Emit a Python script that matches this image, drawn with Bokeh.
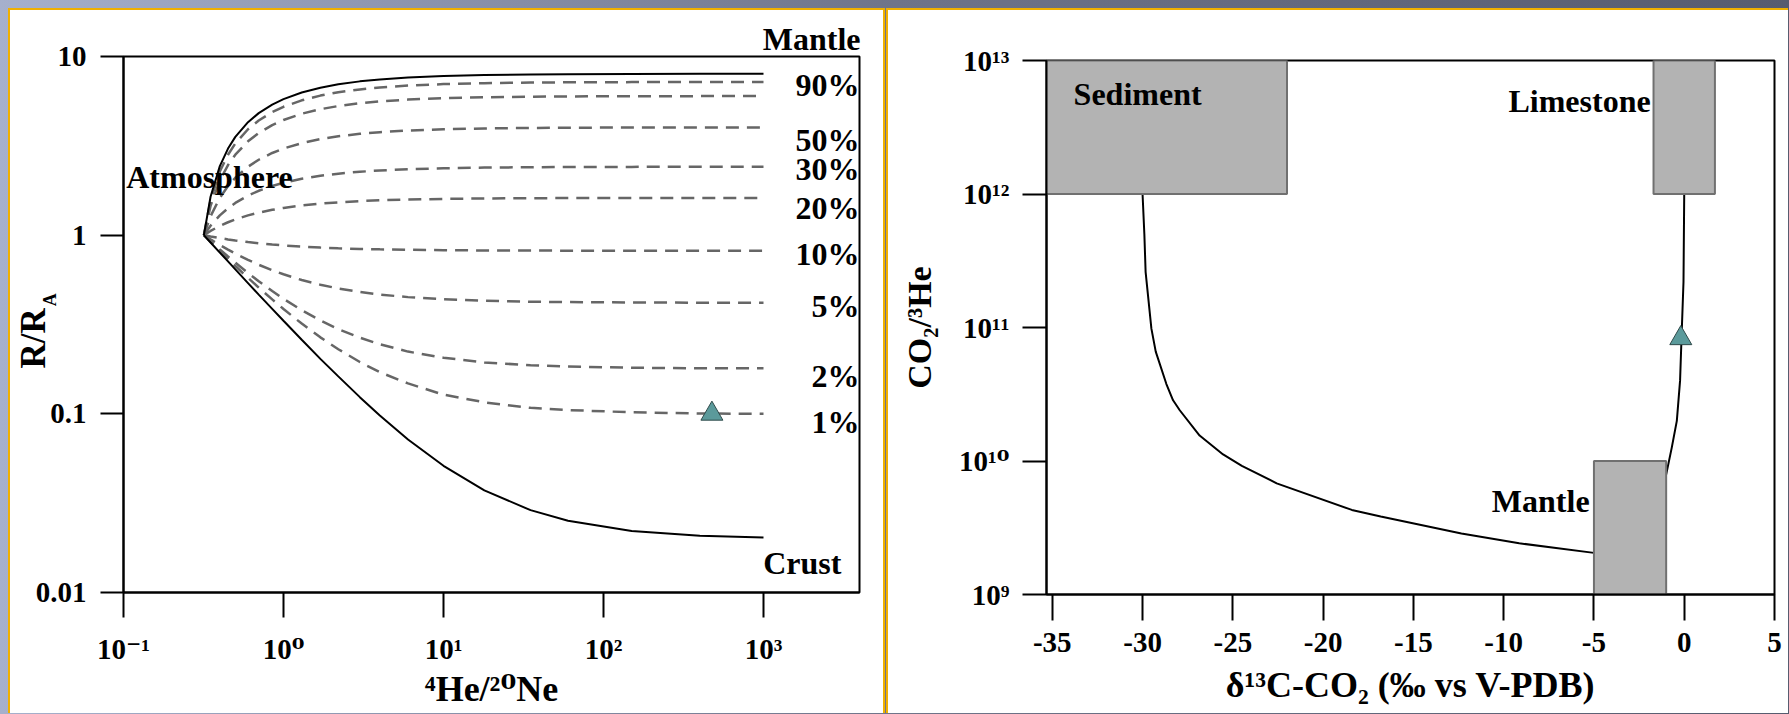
import math
from bokeh.plotting import figure
from bokeh.layouts import row
from bokeh.models import FixedTicker, Label, GlobalInlineStyleSheet
from bokeh.embed import file_html
from bokeh.resources import INLINE

FONT = "Liberation Serif, DejaVu Serif"

# ---------------- Left panel: R/RA vs 4He/20Ne ----------------
he_ne = [0.318, 0.35, 0.4, 0.45, 0.5, 0.6, 0.7, 0.85, 1.0, 1.3, 1.7, 2.2,
         3, 4, 6, 10, 18, 35, 60, 150, 400, 1000]
r_mantle = [1.0, 1.640, 2.435, 3.053, 3.548, 4.290, 4.820, 5.381, 5.774, 6.288, 6.690,
            6.989, 7.258, 7.444, 7.629, 7.777, 7.876, 7.936, 7.963, 7.985, 7.994, 7.998]
r_crust = [1.0, 0.910, 0.799, 0.713, 0.643, 0.539, 0.465, 0.387, 0.332, 0.260, 0.203,
           0.162, 0.124, 0.0979, 0.0719, 0.0512, 0.0373, 0.0289, 0.0252, 0.0221, 0.0208, 0.0203]
r_90 = [1.0, 1.567, 2.271, 2.819, 3.258, 3.915, 4.384, 4.882, 5.230, 5.685, 6.042,
        6.306, 6.545, 6.709, 6.873, 7.005, 7.092, 7.146, 7.169, 7.189, 7.197, 7.200]
r_75 = [1.0, 1.458, 2.026, 2.468, 2.822, 3.352, 3.731, 4.133, 4.413, 4.781, 5.069,
        5.282, 5.474, 5.607, 5.740, 5.846, 5.917, 5.960, 5.978, 5.994, 6.001, 6.003]
r_50 = [1.0, 1.275, 1.617, 1.883, 2.096, 2.415, 2.643, 2.884, 3.053, 3.274, 3.447,
        3.575, 3.691, 3.771, 3.850, 3.914, 3.957, 3.983, 3.994, 4.004, 4.008, 4.009]
r_30 = [1.0, 1.129, 1.290, 1.415, 1.515, 1.665, 1.772, 1.885, 1.964, 2.068, 2.149,
        2.210, 2.264, 2.302, 2.339, 2.369, 2.389, 2.401, 2.407, 2.411, 2.413, 2.414]
r_20 = [1.0, 1.056, 1.126, 1.181, 1.224, 1.290, 1.336, 1.386, 1.420, 1.465, 1.501,
        1.527, 1.551, 1.567, 1.583, 1.596, 1.605, 1.610, 1.613, 1.615, 1.616, 1.616]
r_10 = [1.0, 0.983, 0.963, 0.947, 0.934, 0.915, 0.901, 0.886, 0.876, 0.863, 0.852,
        0.844, 0.837, 0.833, 0.828, 0.824, 0.821, 0.820, 0.819, 0.818, 0.818, 0.818]
r_5 = [1.0, 0.947, 0.881, 0.830, 0.789, 0.727, 0.683, 0.636, 0.604, 0.561, 0.528,
       0.503, 0.481, 0.465, 0.450, 0.438, 0.429, 0.424, 0.422, 0.420, 0.419, 0.419]
r_2 = [1.0, 0.925, 0.832, 0.759, 0.701, 0.614, 0.552, 0.487, 0.440, 0.380, 0.333,
       0.298, 0.267, 0.245, 0.223, 0.206, 0.194, 0.187, 0.184, 0.181, 0.180, 0.180]
r_1 = [1.0, 0.918, 0.815, 0.736, 0.672, 0.577, 0.509, 0.437, 0.386, 0.320, 0.268,
       0.230, 0.195, 0.171, 0.148, 0.128, 0.116, 0.108, 0.105, 0.102, 0.1005, 0.100]
mix_curves = [r_90, r_75, r_50, r_30, r_20, r_10, r_5, r_2, r_1]

mix_label_text = ["90%", "50%", "30%", "20%", "10%", "5%", "2%", "1%"]
mix_label_y = [6.05, 3.01, 2.06, 1.245, 0.694, 0.3527, 0.1439, 0.0789]

sample_he_ne = [476]
sample_r = [0.1]

left_x_ticks = [0.1, 1, 10, 100, 1000]
left_x_tick_labels = ["10\u207b\u00b9", "10\u2070", "10\u00b9", "10\u00b2", "10\u00b3"]
left_y_ticks = [0.01, 0.1, 1, 10]
left_y_tick_labels = ["0.01", "0.1", "1", "10"]

# ---------------- Right panel: CO2/3He vs d13C ----------------
sed_d13c = [-30.0, -29.9, -29.83, -29.51, -29.27, -28.68, -28.31, -27.94, -26.84, -25.54,
            -24.5, -22.57, -18.41, -16.81, -12.34, -9.14, -5.0]
sed_co2he = [1e12, 5e11, 2.6e11, 9.8e10, 6.6e10, 3.77e10, 2.85e10, 2.4e10, 1.55e10, 1.12e10,
             9.2e9, 6.8e9, 4.3e9, 3.84e9, 2.86e9, 2.42e9, 2.05e9]
lime_d13c = [0.0, -0.04, -0.13, -0.23, -0.41, -0.69, -1.0]
lime_co2he = [1e12, 2.2e11, 1e11, 4e10, 2e10, 1.26e10, 7.9e9]

box_names = ["Sediment", "Limestone", "Mantle"]
box_left = [-36.0, -1.7, -5.0]
box_right = [-22.0, 1.7, -1.0]
box_bottom = [1e12, 1e12, 1e9]
box_top = [1e13, 1e13, 1e10]

sample_d13c = [-0.19]
sample_co2he = [8.3e10]

right_x_ticks = [-35, -30, -25, -20, -15, -10, -5, 0, 5]
right_x_tick_labels = ["-35", "-30", "-25", "-20", "-15", "-10", "-5", "0", "5"]
right_y_ticks = [1e9, 1e10, 1e11, 1e12, 1e13]
right_y_tick_labels = ["10\u2079", "10\u00b9\u2070", "10\u00b9\u00b9", "10\u00b9\u00b2", "10\u00b9\u00b3"]

GOLD = "#F0B000"
BOX_FILL = "#b3b3b3"
BOX_LINE = "#707070"
TRI_FILL = "#5b9a9b"
TRI_LINE = "#2f4a4a"
DASH_COLOR = "#666666"


def style_axes(p, xtick_out, ytick_out, xstand, ystand):
    if "frame_align" in p.properties():
        p.frame_align = False
    p.grid.grid_line_color = None
    p.outline_line_color = "black"
    p.outline_line_width = 2
    p.outline_line_alpha = 1
    p.background_fill_color = "white"
    p.border_fill_color = None
    for ax in (p.xaxis[0], p.yaxis[0]):
        ax.axis_line_width = 2
        ax.axis_line_color = "black"
        ax.major_tick_line_width = 2
        ax.major_tick_line_color = "black"
        ax.major_tick_in = 0
        ax.minor_tick_line_color = None
        ax.major_label_text_font = FONT
        ax.major_label_text_font_style = "bold"
        ax.major_label_text_font_size = "29px"
        ax.major_label_text_color = "black"
        ax.axis_label_text_font = FONT
        ax.axis_label_text_font_style = "bold"
        ax.axis_label_text_color = "black"
    p.xaxis[0].major_tick_out = xtick_out
    p.yaxis[0].major_tick_out = ytick_out
    p.xaxis[0].major_label_standoff = xstand
    p.yaxis[0].major_label_standoff = ystand


def make_label(x, y, text, size=32, align="left", angle=0.0, x_offset=0, y_offset=None):
    if y_offset is None:
        y_offset = 0 if angle else round(0.31 * size)
    return Label(x=x, y=y, text=text, text_font=FONT, text_font_style="bold",
                 text_font_size=f"{size}px", text_color="black", text_align=align,
                 text_baseline="alphabetic", angle=angle,
                 x_offset=x_offset, y_offset=y_offset)


# ---- left figure
# The left side panel is made wide (it hosts the out-of-frame labels, which are
# not clipped there); the figure is then pulled left by the extra amount.
SHIFT = 165
X_MAX = 10 ** 3.6
p1 = figure(width=877 + SHIFT, height=705, x_axis_type="log", y_axis_type="log",
            x_range=(0.1, X_MAX), y_range=(0.01, 10), title=None,
            output_backend="svg", toolbar_location=None,
            min_border_left=115 + SHIFT, min_border_right=26, min_border_top=48,
            min_border_bottom=121)
p1.margin = (0, 0, 0, -SHIFT)
style_axes(p1, 25, 23, 15, 14)
p1.xaxis[0].ticker = FixedTicker(ticks=left_x_ticks)
p1.xaxis[0].major_label_overrides = dict(zip(left_x_ticks, left_x_tick_labels))
p1.yaxis[0].ticker = FixedTicker(ticks=left_y_ticks)
p1.yaxis[0].major_label_overrides = dict(zip(left_y_ticks, left_y_tick_labels))
p1.xaxis[0].axis_label = "\u2074He/\u00b2\u2070Ne"
p1.xaxis[0].axis_label_text_font_size = "36px"
p1.xaxis[0].axis_label_standoff = 1

for curve in mix_curves:
    p1.line(he_ne, curve, line_color=DASH_COLOR, line_width=2.5, line_dash="13 8")
p1.line(he_ne, r_mantle, line_color="black", line_width=2)
p1.line(he_ne, r_crust, line_color="black", line_width=2)
p1.scatter(sample_he_ne, sample_r, marker="triangle", size=22,
           fill_color=TRI_FILL, line_color=TRI_LINE, line_width=1)

for t, yv in zip(mix_label_text, mix_label_y):
    p1.add_layout(make_label(X_MAX, yv, t, align="right"))
p1.add_layout(make_label(3069, 0.01282, "Crust", align="right"))
p1.add_layout(make_label(0.104, 1.868, "Atmosphere"))
# texts outside the frame go to the (wide) left side panel
p1.add_layout(make_label(X_MAX, 10.8, "Mantle", align="right", x_offset=1, y_offset=12), "left")
p1.add_layout(make_label(0.03566, 0.1791, "R/R", size=35, angle=math.pi / 2, x_offset=-18), "left")
p1.add_layout(make_label(0.0412, 0.400, "A", size=18, angle=math.pi / 2, x_offset=-12), "left")

p1.styles = {"background": (
    f"linear-gradient({GOLD},{GOLD}) {SHIFT}px 0 / calc(100% - {SHIFT}px) 2px no-repeat, "
    f"linear-gradient({GOLD},{GOLD}) {SHIFT}px 0 / 2px 100% no-repeat, "
    f"linear-gradient({GOLD},{GOLD}) 100% 0 / 2px 100% no-repeat, "
    f"linear-gradient(#ffffff,#ffffff) {SHIFT}px 0 / calc(100% - {SHIFT}px) 100% no-repeat")}

# ---- right figure
p2 = figure(width=902, height=705, y_axis_type="log",
            x_range=(-35.32, 5), y_range=(1e9, 1e13), title=None,
            output_backend="svg", toolbar_location=None,
            min_border_left=160, min_border_right=14, min_border_top=52, min_border_bottom=119)
style_axes(p2, 26, 24, 12, 13)
p2.xaxis[0].ticker = FixedTicker(ticks=right_x_ticks)
p2.xaxis[0].major_label_overrides = dict(zip(right_x_ticks, right_x_tick_labels))
p2.yaxis[0].ticker = FixedTicker(ticks=right_y_ticks)
p2.yaxis[0].major_label_overrides = dict(zip(right_y_ticks, right_y_tick_labels))
p2.xaxis[0].axis_label = "\u03b4\u00b9\u00b3C-CO\u2082 (\u2030 vs V-PDB)"
p2.xaxis[0].axis_label_text_font_size = "36px"
p2.xaxis[0].axis_label_standoff = 10
p2.yaxis[0].axis_label = "CO\u2082/\u00b3He"
p2.yaxis[0].axis_label_text_font_size = "34px"
p2.yaxis[0].axis_label_standoff = 18

p2.line(sed_d13c, sed_co2he, line_color="black", line_width=2)
p2.line(lime_d13c, lime_co2he, line_color="black", line_width=2)
p2.quad(left=box_left, right=box_right, bottom=box_bottom, top=box_top,
        fill_color=BOX_FILL, line_color=BOX_LINE, line_width=2)
p2.scatter(sample_d13c, sample_co2he, marker="triangle", size=22,
           fill_color=TRI_FILL, line_color=TRI_LINE, line_width=1)

p2.add_layout(make_label(-33.82, 4.73e12, box_names[0]))
p2.add_layout(make_label(-1.86, 4.15e12, box_names[1], align="right"))
p2.add_layout(make_label(-5.24, 4.24e9, box_names[2], align="right"))

p2.styles = {"background-color": "white",
             "box-shadow": f"inset 2px 2px 0 0 {GOLD}"}

layout = row(p1, p2, spacing=1)
layout.stylesheets = [GlobalInlineStyleSheet(css=(
    "html, body { margin: 0 !important; overflow: hidden; }"
    "body { padding: 8px 0 0 8px !important; box-sizing: border-box; "
    "background: linear-gradient(90deg, #a6b0cc 0%, #6f7489 50%, #575c6f 100%); }"))]

open("out.html", "w").write(file_html(layout, INLINE))
